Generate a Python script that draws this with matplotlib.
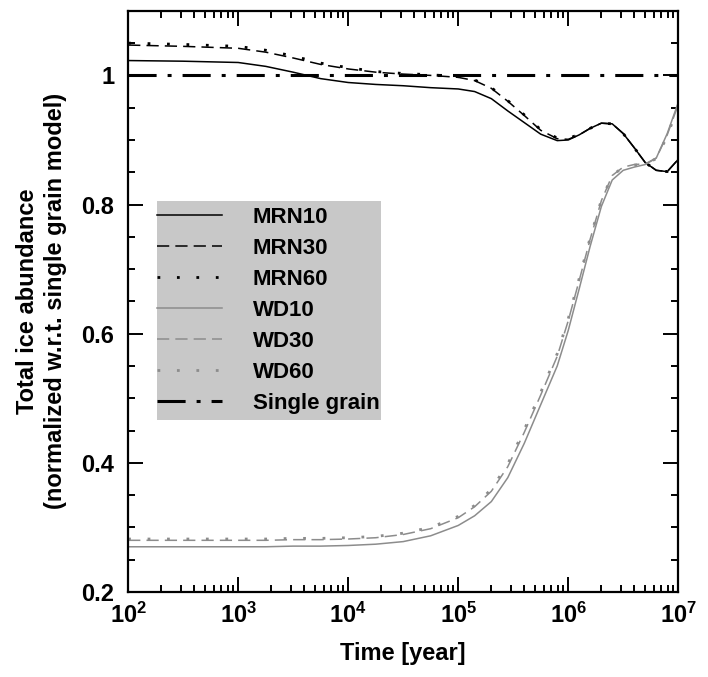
import numpy as np
import matplotlib
matplotlib.use("Agg")
from matplotlib import pyplot as plt
from matplotlib.patches import Rectangle
from matplotlib.ticker import LogLocator, MultipleLocator, FuncFormatter, NullFormatter

plt.rcParams['font.family'] = ['Liberation Sans', 'DejaVu Sans']
plt.rcParams['font.weight'] = 'bold'
plt.rcParams['mathtext.fontset'] = 'custom'
plt.rcParams['mathtext.rm'] = 'Liberation Sans:bold'
plt.rcParams['mathtext.bf'] = 'Liberation Sans:bold'
plt.rcParams['mathtext.default'] = 'bf'

# Zeitachse (Jahre)
time = [1.0e2, 3.16e2, 1.0e3, 1.78e3, 3.16e3, 5.62e3, 1.0e4, 1.78e4, 3.16e4, 5.62e4,
        1.0e5, 1.41e5, 2.0e5, 2.82e5, 3.98e5, 5.62e5, 7.94e5, 1.0e6, 1.26e6, 1.58e6,
        2.0e6, 2.51e6, 3.16e6, 3.98e6, 5.01e6, 6.31e6, 7.94e6, 1.0e7]

mrn10 = [1.023, 1.022, 1.020, 1.014, 1.005, 0.995, 0.989, 0.986, 0.984, 0.981,
         0.979, 0.975, 0.964, 0.945, 0.927, 0.909, 0.899, 0.900, 0.908, 0.918,
         0.926, 0.925, 0.910, 0.888, 0.865, 0.853, 0.851, 0.870]
mrn30 = [1.047, 1.045, 1.042, 1.036, 1.027, 1.017, 1.010, 1.005, 1.002, 1.000,
         0.997, 0.992, 0.980, 0.960, 0.938, 0.915, 0.902, 0.901, 0.908, 0.918,
         0.926, 0.925, 0.910, 0.888, 0.865, 0.853, 0.851, 0.870]
mrn60 = [1.050, 1.048, 1.045, 1.039, 1.030, 1.019, 1.012, 1.006, 1.003, 1.001,
         0.998, 0.993, 0.981, 0.961, 0.939, 0.916, 0.903, 0.902, 0.909, 0.918,
         0.926, 0.925, 0.910, 0.888, 0.865, 0.853, 0.851, 0.870]
wd10 = [0.270, 0.270, 0.270, 0.270, 0.271, 0.271, 0.272, 0.274, 0.278, 0.287,
        0.303, 0.318, 0.340, 0.377, 0.430, 0.490, 0.550, 0.605, 0.670, 0.735,
        0.797, 0.838, 0.853, 0.858, 0.862, 0.872, 0.910, 0.958]
wd30 = [0.280, 0.280, 0.280, 0.280, 0.281, 0.281, 0.282, 0.284, 0.289, 0.298,
        0.315, 0.332, 0.356, 0.394, 0.447, 0.505, 0.565, 0.620, 0.683, 0.746,
        0.806, 0.845, 0.858, 0.862, 0.863, 0.872, 0.908, 0.955]
wd60 = [0.282, 0.282, 0.282, 0.282, 0.283, 0.283, 0.284, 0.286, 0.291, 0.300,
        0.317, 0.334, 0.359, 0.398, 0.451, 0.509, 0.569, 0.623, 0.686, 0.748,
        0.807, 0.845, 0.858, 0.861, 0.863, 0.871, 0.906, 0.953]
single = [1.0, 1.0]
single_time = [1.0e2, 1.0e7]

grau = '#8c8c8c'

fig = plt.figure(figsize=(7.08, 6.77), dpi=100)
ax = fig.add_axes([0.181, 0.1256, 0.777, 0.8584])

ax.plot(time, mrn10, color='k', lw=1.1, label='MRN10')
ax.plot(time, mrn30, color='k', lw=1.1, dashes=(8, 4), label='MRN30')
ax.plot(time, mrn60, color='k', lw=2.0, dashes=(1, 6), label='MRN60')
ax.plot(time, wd10, color=grau, lw=1.1, label='WD10')
ax.plot(time, wd30, color=grau, lw=1.1, dashes=(8, 4), label='WD30')
ax.plot(time, wd60, color=grau, lw=2.0, dashes=(1, 6), label='WD60')
ax.plot(single_time, single, color='k', lw=2.2, dashes=(9.2, 3.6, 1.3, 3.6), label='Single grain')

ax.set_xscale('log')
ax.set_xlim(1e2, 1e7)
ax.set_ylim(0.2, 1.1)

ax.xaxis.set_major_locator(LogLocator(base=10, numticks=10))
ax.xaxis.set_minor_locator(LogLocator(base=10, subs=np.arange(2, 10), numticks=10))
ax.xaxis.set_minor_formatter(NullFormatter())
ax.xaxis.set_major_formatter(FuncFormatter(lambda v, p: r'$10^{%d}$' % round(np.log10(v))))
ax.yaxis.set_major_locator(MultipleLocator(0.2))
ax.yaxis.set_minor_locator(MultipleLocator(0.05))
ax.yaxis.set_major_formatter(FuncFormatter(lambda v, p: '%g' % round(v, 2)))

ax.tick_params(which='both', direction='in', top=True, right=True, width=1.4, labelsize=17)
ax.tick_params(which='major', length=11, pad=8)
ax.tick_params(axis='y', which='major', pad=10)
ax.tick_params(which='minor', length=5)
for s in ax.spines.values():
    s.set_linewidth(1.6)

ax.set_xlabel('Time [year]', fontsize=17, fontweight='bold', labelpad=10)
ax.set_ylabel('Total ice abundance\n(normalized w.r.t. single grain model)',
              fontsize=17, fontweight='bold', labelpad=10, linespacing=1.3)

# grauer Kasten hinter der Legende
ax.add_patch(Rectangle((0.0527, 0.296), 0.407, 0.377, transform=ax.transAxes,
                       facecolor='#c8c8c8', edgecolor='none', zorder=3))
leg = ax.legend(loc='upper left', bbox_to_anchor=(0.0527, 0.662), borderaxespad=0,
                fontsize=16, frameon=False, handlelength=2.9,
                handletextpad=1.4, labelspacing=0.45, borderpad=0)
leg.set_zorder(4)

plt.savefig('out.png', dpi=100)
